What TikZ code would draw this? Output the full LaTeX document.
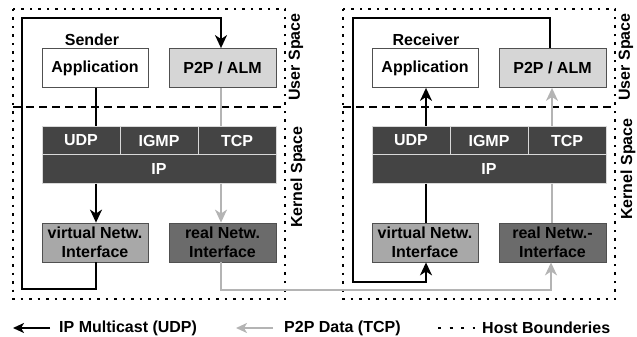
\documentclass[tikz,border=0pt]{standalone}
\usepackage{fontspec}
\setmainfont{Liberation Sans}
\usetikzlibrary{arrows.meta}
\definecolor{lgray}{HTML}{D6D6D6}
\definecolor{stackc}{HTML}{444444}
\definecolor{vnic}{HTML}{A8A8A8}
\definecolor{rnic}{HTML}{6B6B6B}
\definecolor{glink}{HTML}{B4B4B4}
\definecolor{bord}{HTML}{505050}
\begin{document}
\begin{tikzpicture}[x=1pt,y=-1pt,
  every node/.style={font=\fontsize{16}{19}\selectfont\bfseries, inner sep=0pt},
  box/.style={draw=bord, line width=0.8pt, minimum width=106pt, minimum height=39pt, align=center},
  stk/.style={fill=stackc, draw=white!85!black, line width=0.8pt, text=white, minimum height=28.5pt},
  host/.style={line width=2pt, dash pattern=on 2.5pt off 6pt},
  sep/.style={line width=2pt, dash pattern=on 8pt off 5pt},
  blk/.style={line width=2pt, black},
  gry/.style={line width=2pt, glink},
  tip/.style={-{Stealth[length=13pt,width=12pt,inset=4pt]}},
  lbl/.style={rotate=90}
]
\useasboundingbox (0,0) rectangle (637,337);
\foreach \o/\p in {0/s,330/r}{
  \begin{scope}[xshift=\o pt]
  \node[box, fill=white] (\p app) at (95,68) {Application};
  \node[box, fill=lgray, minimum width=107pt] (\p p2p) at (222.5,68) {P2P / ALM};
  \node[stk, minimum width=78pt] (\p udp) at (81,140.5) {UDP};
  \node[stk, minimum width=78pt] (\p igmp) at (159,140.5) {IGMP};
  \node[stk, minimum width=78pt] (\p tcp) at (237,140.5) {TCP};
  \node[stk, minimum width=234pt] (\p ip) at (159,169) {IP};
  \node[box, fill=vnic] (\p vni) at (95,242.5) {virtual Netw.\\Interface};
  \node[lbl] (\p us) at (296,57) {User Space};
  \coordinate (\p hb1) at (13,9);
  \coordinate (\p hb2) at (285,299);
  \coordinate (\p d1) at (13,107);
  \coordinate (\p d2) at (285,107);
  \end{scope}
}
\node[box, fill=rnic, minimum width=107pt] (srni) at (222.5,242.5) {real Netw.\\Interface};
\node[box, fill=rnic, minimum width=107pt] (rrni) at (552.5,242.5) {real Netw.-\\Interface};
\node[lbl] (sks) at (298,177) {Kernel Space};
\node[lbl] (rks) at (628,169) {Kernel Space};
\node (sendl) at (92,40) {Sender};
\node (recvl) at (426,40) {Receiver};
% host boundaries
\draw[host] (shb1) rectangle (shb2);
\draw[host] (rhb1) rectangle (rhb2);
% user/kernel separators
\draw[sep] (sd1) -- (sd2);
\draw[sep] (rd1) -- (rd2);
% sender connectors
\coordinate (sbl) at (22,289);
\coordinate (stl) at (22,18);
\draw[blk] (sapp.south -| 96,0) -- (sudp.north -| 96,0);
\draw[blk,tip] (sip.south -| 96,0) -- (svni.north -| 96,0);
\draw[blk,tip] (svni.south -| 96,0) |- (sbl) -- (stl) -| (sp2p.north -| 221,0);
\draw[gry] (sp2p.south -| 221,0) -- (stcp.north -| 221,0);
\draw[gry,tip] (sip.south -| 221,0) -- (srni.north -| 221,0);
\coordinate (gbl) at (221,290);
\draw[gry,tip] (srni.south -| 221,0) -- (gbl) -| (rrni.south -| 551,0);
% receiver connectors
\coordinate (rbl) at (353,282);
\coordinate (rtl) at (353,18);
\draw[blk,tip] (rudp.north -| 426,0) -- (rapp.south -| 426,0);
\draw[gry,tip] (rtcp.north -| 552,0) -- (rp2p.south -| 552,0);
\draw[blk] (rip.south -| 426,0) -- (rvni.north -| 426,0);
\draw[gry] (rip.south -| 552,0) -- (rrni.north -| 552,0);
\draw[blk,tip] (rp2p.north -| 550,0) |- (rtl) -- (rbl) -| (rvni.south -| 426,0);
% legend
\coordinate (l1a) at (50,328); \coordinate (l1b) at (13,328);
\coordinate (l2a) at (273,328); \coordinate (l2b) at (236,328);
\coordinate (l3a) at (438,328); \coordinate (l3b) at (475,328);
\draw[line width=2pt, black, -{Stealth[length=11pt,width=10pt,inset=3pt]}] (l1a) -- (l1b);
\draw[line width=2pt, glink, -{Stealth[length=11pt,width=10pt,inset=3pt]}] (l2a) -- (l2b);
\draw[line width=2pt, dash pattern=on 3pt off 8.5pt] (l3a) -- (l3b);
\node[anchor=west] (leg1) at (59,328) {IP Multicast (UDP)};
\node[anchor=west] (leg2) at (284,328) {P2P Data (TCP)};
\node[anchor=west] (leg3) at (482,328) {Host Bounderies};
\end{tikzpicture}
\end{document}
